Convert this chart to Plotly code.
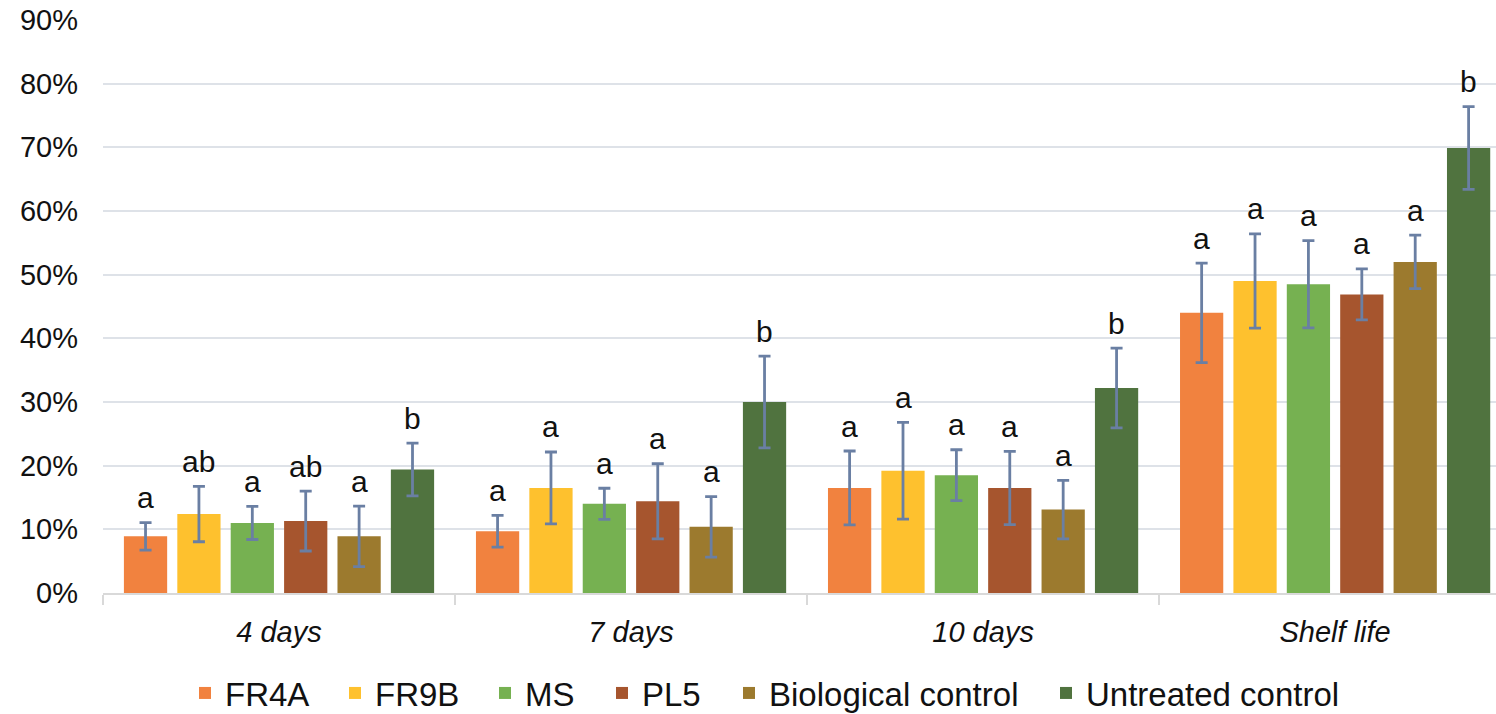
import plotly.graph_objects as go

# Sampling times on the x axis
periods = ["4 days", "7 days", "10 days", "Shelf life"]

# Treatments (one bar series each)
treatments = ["FR4A", "FR9B", "MS", "PL5", "Biological control", "Untreated control"]

# Mean incidence (%) per treatment and period
fr4a = [8.9, 9.7, 16.5, 44.0]
fr9b = [12.4, 16.5, 19.2, 49.0]
ms = [11.0, 14.0, 18.5, 48.5]
pl5 = [11.3, 14.4, 16.5, 46.9]
bio_control = [8.9, 10.4, 13.1, 52.0]
untreated = [19.4, 30.0, 32.2, 69.9]

# Standard deviations (%)
fr4a_sd = [2.15, 2.5, 5.8, 7.8]
fr9b_sd = [4.35, 5.65, 7.6, 7.4]
ms_sd = [2.6, 2.45, 4.0, 6.85]
pl5_sd = [4.7, 5.9, 5.75, 4.0]
bio_control_sd = [4.75, 4.75, 4.6, 4.2]
untreated_sd = [4.15, 7.2, 6.25, 6.5]

# Significance letters
fr4a_sig = ["a", "a", "a", "a"]
fr9b_sig = ["ab", "a", "a", "a"]
ms_sig = ["a", "a", "a", "a"]
pl5_sig = ["ab", "a", "a", "a"]
bio_control_sig = ["a", "a", "a", "a"]
untreated_sig = ["b", "b", "b", "b"]

y_ticks = list(range(0, 91, 10))
y_tick_labels = [f"{v}%" for v in y_ticks]

means = [fr4a, fr9b, ms, pl5, bio_control, untreated]
sds = [fr4a_sd, fr9b_sd, ms_sd, pl5_sd, bio_control_sd, untreated_sd]
sigs = [fr4a_sig, fr9b_sig, ms_sig, pl5_sig, bio_control_sig, untreated_sig]
colors = ["#F1823F", "#FEC12E", "#76B151", "#A6552E", "#9C7A2E", "#50733F"]

FONT = "Liberation Sans, Arial, sans-serif"
BARGAP = 0.09
GROUPGAP = 0.19
W, H = 1496, 714

# Left edge (px) of each legend entry along the bottom row
legend_left_px = [185, 335, 485, 602, 729, 1046]

fig = go.Figure()
for idx, (name, m, s, c) in enumerate(zip(treatments, means, sds, colors)):
    fig.add_trace(go.Bar(
        name=name, x=periods, y=m,
        marker=dict(color=c, line=dict(width=0)),
        error_y=dict(type="data", array=s, visible=True,
                     color="#6A7FA3", thickness=2.8, width=6),
        legend="legend" if idx == 0 else f"legend{idx + 1}",
    ))

# Letters above each error bar, placed on the grouped bar slots
n = len(treatments)
slot = (1 - BARGAP) / n
annotations = []
for k, (m, s, sig) in enumerate(zip(means, sds, sigs)):
    for i in range(len(periods)):
        annotations.append(dict(
            x=i + (k - (n - 1) / 2) * slot, y=m[i] + s[i],
            xref="x", yref="y", text=sig[i], showarrow=False,
            yanchor="middle", yshift=25,
            font=dict(family=FONT, size=30, color="#111111"),
        ))

legend_style = dict(
    orientation="h", xref="container", yref="container",
    y=(H - 693) / H, yanchor="middle", xanchor="left",
    font=dict(family=FONT, size=33, color="#111111"),
    itemwidth=30, bgcolor="rgba(0,0,0,0)", borderwidth=0,
)
legends = {}
for idx, px in enumerate(legend_left_px):
    key = "legend" if idx == 0 else f"legend{idx + 1}"
    legends[key] = dict(legend_style, x=px / W)

fig.update_layout(
    width=W, height=H,
    margin=dict(l=103, r=0, t=20, b=121),
    paper_bgcolor="white", plot_bgcolor="white",
    barmode="group", bargap=BARGAP, bargroupgap=GROUPGAP,
    annotations=annotations,
    showlegend=True,
    font=dict(family=FONT, color="#111111"),
    **legends,
)

fig.update_xaxes(
    type="category", range=[-0.5, 3.457],
    showline=True, linecolor="#D9D9D9", linewidth=2,
    ticks="outside", tickson="boundaries", ticklen=10, tickwidth=2, tickcolor="#D9D9D9",
    ticklabelstandoff=12,
    tickfont=dict(family=FONT, size=29, color="#111111", style="italic"),
    showgrid=False,
)

fig.update_yaxes(
    range=[0, 90], tickmode="array", tickvals=y_ticks, ticktext=y_tick_labels,
    showgrid=True, gridcolor="#DEE2E8", gridwidth=2,
    zeroline=False, showline=False, ticks="",
    ticklabelstandoff=24,
    tickfont=dict(family=FONT, size=29, color="#111111"),
)

fig.write_html("out.html")
